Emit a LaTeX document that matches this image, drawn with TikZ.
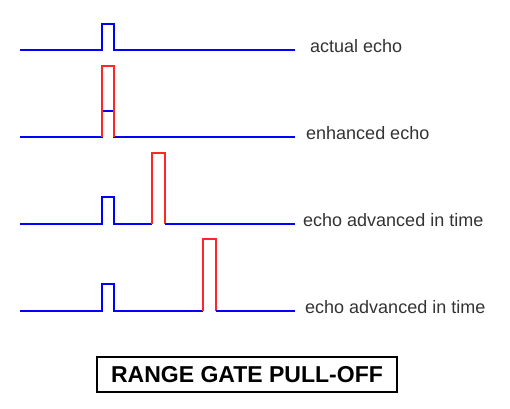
\documentclass[tikz,border=0pt]{standalone}
\usepackage{fontspec}
\setmainfont{Liberation Sans}
\begin{document}
\begin{tikzpicture}[
    x=1pt, y=-1pt,
    echo/.style={draw=blue, line width=1.4pt},
    fake/.style={draw=red!85, line width=1.4pt},
    lbl/.style={anchor=base west, inner sep=0pt, text=black!80, font=\fontsize{18}{21}\selectfont},
    title/.style={draw, line width=1.6pt, inner xsep=8pt, minimum width=300pt, minimum height=35pt, font=\fontsize{23}{27}\selectfont\bfseries},
]
    \useasboundingbox (0,0) rectangle (510,408);

    % Row 1: actual echo
    \draw[echo] (20,50) -- (102,50) -- (102,24) -- (114,24) -- (114,50) -- (295,50);
    \node[lbl] (actual) at (310,52) {actual echo};

    % Row 2: enhanced echo (red repeater pulse on top of the echo)
    \draw[echo] (20,137) -- (102,137) -- (102,111) -- (114,111) -- (114,137) -- (295,137);
    \draw[fake] (102,137) -- (102,66) -- (114,66) -- (114,137);
    \node[lbl] (enhanced) at (306,139) {enhanced echo};

    % Row 3: false echo moved away
    \draw[echo] (20,224) -- (102,224) -- (102,197) -- (114,197) -- (114,224) -- (152,224);
    \draw[fake] (152,224) -- (152,153) -- (165,153) -- (165,224);
    \draw[echo] (165,224) -- (295,224);
    \node[lbl] (advA) at (303,226) {echo advanced in time};

    % Row 4: false echo moved further
    \draw[echo] (20,311) -- (102,311) -- (102,284) -- (114,284) -- (114,311) -- (203,311);
    \draw[fake] (203,311) -- (203,239) -- (216,239) -- (216,311);
    \draw[echo] (216,311) -- (295,311);
    \node[lbl] (advB) at (305,313) {echo advanced in time};

    % Caption box
    \node[title] (caption) at (247,374.5) {RANGE GATE PULL-OFF};
\end{tikzpicture}
\end{document}
